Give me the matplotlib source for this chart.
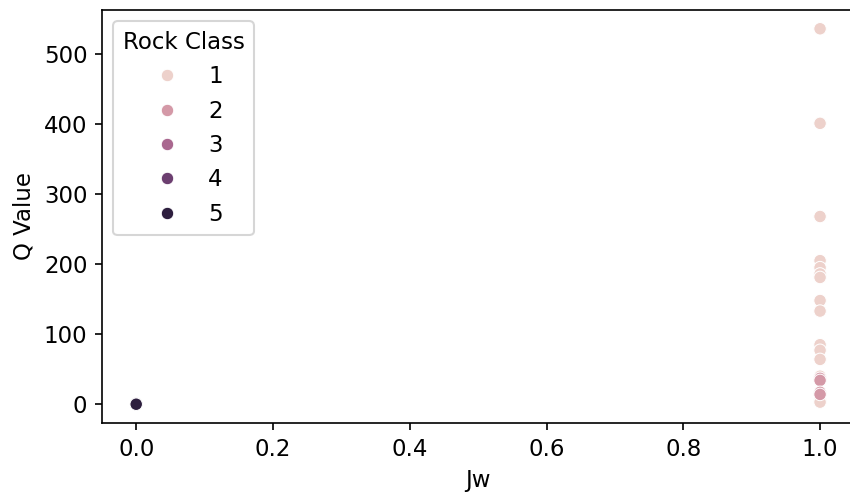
import matplotlib
matplotlib.use("Agg")
import matplotlib.pyplot as plt
import seaborn as sns
import pandas as pd

# joint water reduction factor, Q value and rock class per sample
jw = [1, 1, 1, 1, 1, 1, 1, 1, 1, 1, 1, 1, 1, 1, 1, 1, 1, 1, 1, 0, 0, 0]
q_value = [536, 401, 268, 205, 195, 186, 181, 148, 133, 85, 77, 64, 40,
           6, 3, 37, 34, 17, 14, 0.8, 0.4, 0]
rock_class = [1, 1, 1, 1, 1, 1, 1, 1, 1, 1, 1, 1, 1,
              1, 1, 2, 2, 2, 2, 3, 4, 5]

df = pd.DataFrame({"Jw": jw, "Q Value": q_value, "Rock Class": rock_class})

plt.rcParams['font.size'] = 11

fig = plt.figure(figsize=(850/150, 500/150), dpi=150)
ax = fig.add_axes([0.12, 0.154, 0.885, 0.826])

sns.scatterplot(data=df, x="Jw", y="Q Value", hue="Rock Class", ax=ax)

ax.set_xticks([0.0, 0.2, 0.4, 0.6, 0.8, 1.0])
ax.set_yticks([0, 100, 200, 300, 400, 500])
ax.spines['right'].set_visible(False)

fig.savefig("out.png", dpi=150)
